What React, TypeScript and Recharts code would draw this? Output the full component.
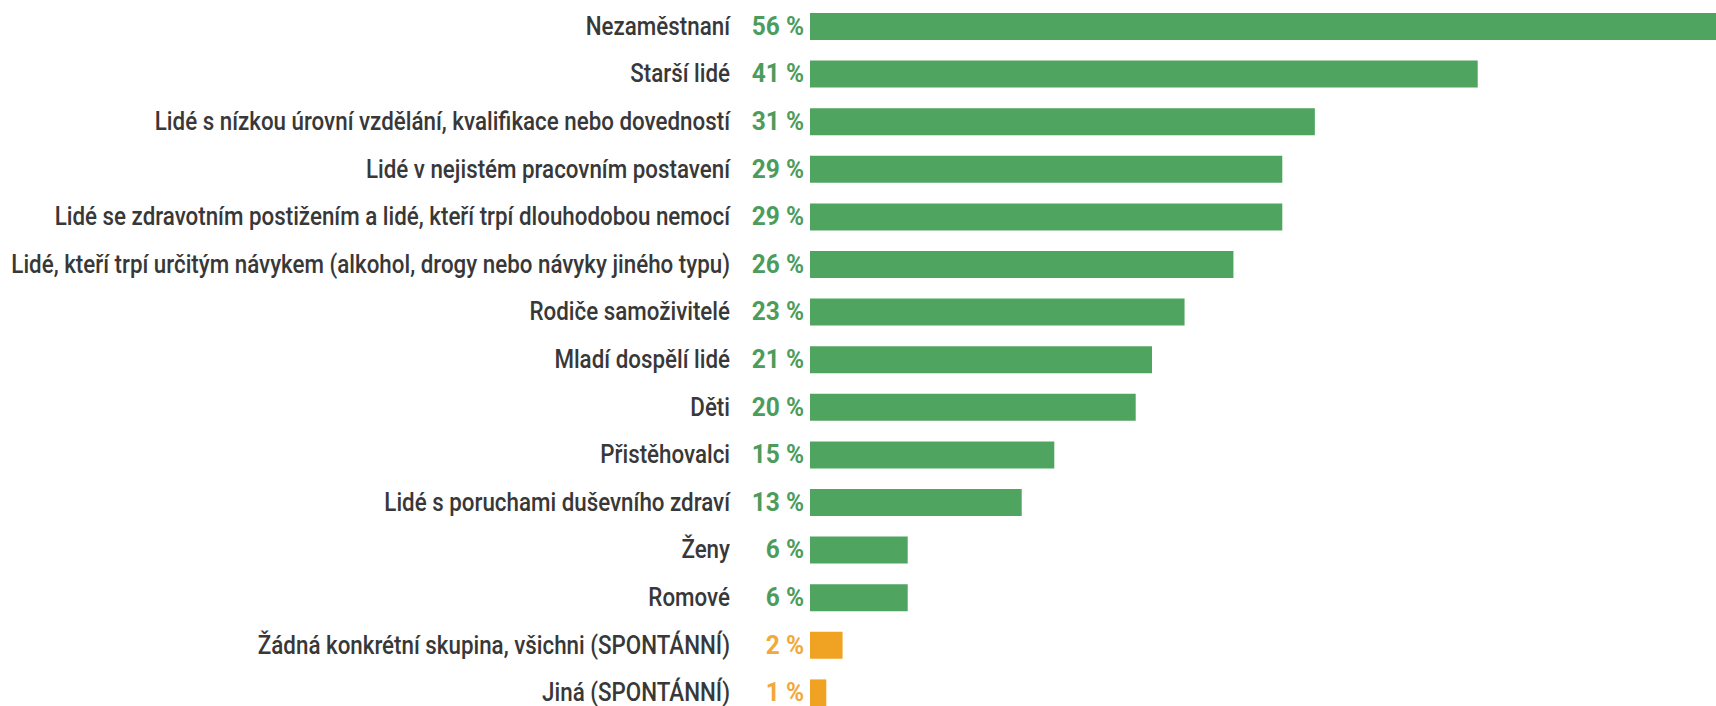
import { Bar, BarChart, Cell, XAxis, YAxis } from "recharts";

const groups = [
  "Nezaměstnaní",
  "Starší lidé",
  "Lidé s nízkou úrovní vzdělání, kvalifikace nebo dovedností",
  "Lidé v nejistém pracovním postavení",
  "Lidé se zdravotním postižením a lidé, kteří trpí dlouhodobou nemocí",
  "Lidé, kteří trpí určitým návykem (alkohol, drogy nebo návyky jiného typu)",
  "Rodiče samoživitelé",
  "Mladí dospělí lidé",
  "Děti",
  "Přistěhovalci",
  "Lidé s poruchami duševního zdraví",
  "Ženy",
  "Romové",
  "Žádná konkrétní skupina, všichni (SPONTÁNNÍ)",
  "Jiná (SPONTÁNNÍ)",
];

const shares = [56, 41, 31, 29, 29, 26, 23, 21, 20, 15, 13, 6, 6, 2, 1];

const spontaneous = [false, false, false, false, false, false, false, false, false, false, false, false, false, true, true];

const data = groups.map((name, i) => ({ name, value: shares[i], spont: spontaneous[i] }));

const GREEN = "#4fa560";
const ORANGE = "#f0a322";
const FONT = "Roboto, 'Liberation Sans', sans-serif";

// reference uses a condensed face, so squeeze the text horizontally
function GroupTick(props: any) {
  const { x, y, payload } = props;
  const row = data[payload.index];
  return (
    <g>
      <text
        transform={`translate(${x - 74}, ${y}) scale(0.86, 1)`}
        dy={8}
        textAnchor="end"
        fontFamily={FONT}
        fontSize={26}
        fontWeight={500}
        fill="#383838"
      >
        {row.name}
      </text>
      <text
        transform={`translate(${x}, ${y}) scale(0.98, 1)`}
        dy={8}
        textAnchor="end"
        fontFamily={FONT}
        fontSize={25}
        fontWeight="bold"
        fill={row.spont ? "#f2a83a" : "#4c9c5c"}
      >
        {row.value} %
      </text>
    </g>
  );
}

export default function App() {
  return (
    <div style={{ position: "absolute", left: 0, top: 0, width: 1716, height: 706, overflow: "hidden", background: "#fff" }}>
      <BarChart
        width={1722}
        height={720}
        data={data}
        layout="vertical"
        margin={{ top: 3, right: 0, bottom: 3, left: 0 }}
        barSize={27}
      >
        <XAxis type="number" domain={[0, 56]} hide />
        <YAxis
          type="category"
          dataKey="name"
          width={810}
          axisLine={false}
          tickLine={false}
          tickSize={0}
          tickMargin={6}
          interval={0}
          tick={<GroupTick />}
        />
        <Bar dataKey="value" isAnimationActive={false}>
          {data.map((d, i) => (
            <Cell key={`c-${i}`} fill={d.spont ? ORANGE : GREEN} />
          ))}
        </Bar>
      </BarChart>
    </div>
  );
}
